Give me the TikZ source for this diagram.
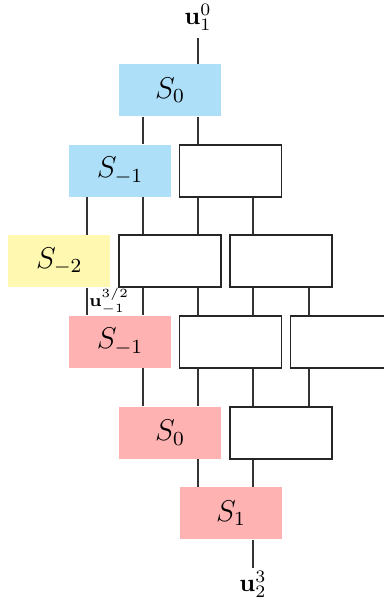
\documentclass[tikz,border=0pt]{standalone}
\usetikzlibrary{positioning}
\definecolor{upblue}{RGB}{173,223,249}
\definecolor{midyellow}{RGB}{255,248,176}
\definecolor{downred}{RGB}{255,178,178}
\tikzset{
  gate/.style={minimum width=40.8pt, minimum height=20.8pt, inner sep=0pt, font=\large},
  blank/.style={gate, draw=black!85, fill=white, line width=0.7pt},
  bluegate/.style={gate, fill=upblue},
  yellowgate/.style={gate, fill=midyellow},
  redgate/.style={gate, fill=downred},
  wire/.style={draw=black!80, line width=0.7pt}
}
\begin{document}
\begin{tikzpicture}[x=0.4pt, y=-0.4pt]
    \clip (0,0) rectangle (384,607);
    % wire columns
    \coordinate (c0) at (87,0);
    \coordinate (c1) at (143,0);
    \coordinate (c2) at (198,0);
    \coordinate (c3) at (253,0);
    \coordinate (c4) at (309,0);
    % boxes, row by row
    \node[bluegate] (S0b) at (170,90) {$S_0$};
    \node[bluegate] (Sm1b) at (120,170.7) {$S_{-1}$};
    \node[blank] (W1) at (230.5,170.7) {};
    \node[yellowgate] (Sm2) at (59.3,261.3) {$S_{-2}$};
    \node[blank] (W2a) at (170.2,261.3) {};
    \node[blank] (W2b) at (281.2,261.3) {};
    \node[redgate] (Sm1r) at (120,341.8) {$S_{-1}$};
    \node[blank] (W3a) at (230.5,341.8) {};
    \node[blank] (W3b) at (341.5,341.8) {};
    \node[redgate] (S0r) at (170,432.7) {$S_0$};
    \node[blank] (W4) at (281.2,432.7) {};
    \node[redgate] (S1) at (231,513.2) {$S_1$};
    % open ends
    \node[inner sep=2.8pt] (uin) at (198,17.5) {$\mathbf{u}_1^0$};
    \node[inner sep=1pt] (uout) at (253,584) {$\mathbf{u}_2^3$};
    \draw[wire] (uin.south) -- (S0b.north -| uin);
    \draw[wire] (S1.south -| uout) -- (uout.north);
    % wires between the boxes
    \foreach \a/\b/\c in {S0b/Sm1b/c1, S0b/W1/c2, Sm1b/Sm2/c0, Sm1b/W2a/c1,
        W1/W2a/c2, W1/W2b/c3, W2a/Sm1r/c1, W2a/W3a/c2, W2b/W3a/c3, W2b/W3b/c4,
        Sm1r/S0r/c1, W3a/S0r/c2, W3a/W4/c3, W3b/W4/c4, S0r/S1/c2, W4/S1/c3}
        \draw[wire] (\a.south -| \c) -- (\b.north -| \c);
    \draw[wire] (Sm2.south -| c0) -- (Sm1r.north -| c0)
        node[midway, right, inner sep=0.5pt, font=\scriptsize] (uhalf) {$\mathbf{u}_{-1}^{3/2}$};
\end{tikzpicture}
\end{document}
